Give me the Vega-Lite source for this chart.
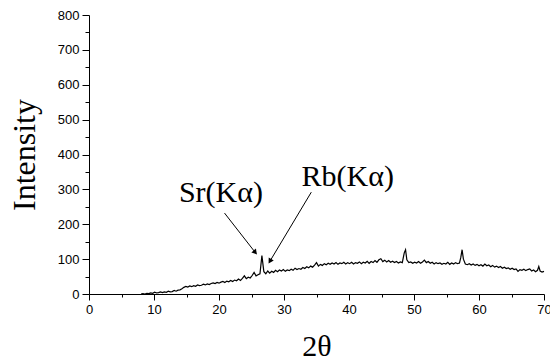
{
  "$schema": "https://vega.github.io/schema/vega-lite/v6.json",
  "width": 455,
  "height": 279,
  "autosize": "none",
  "padding": {"left": 89, "top": 15, "right": 6, "bottom": 69},
  "background": "white",
  "config": {"view": {"stroke": null}, "axis": {"grid": false, "domainColor": "black", "tickColor": "black", "labelColor": "black", "titleColor": "black", "labelFont": "Liberation Sans", "labelFontSize": 13, "labelOverlap": false}},
  "datasets": {
    "spectrum": [
      {"t":8.0,"i":0},{"t":8.3,"i":1},{"t":8.6,"i":0},{"t":8.9,"i":2},{"t":9.2,"i":1},{"t":9.5,"i":3},{"t":9.8,"i":2},
      {"t":10.1,"i":5},{"t":10.4,"i":3},{"t":10.7,"i":4},{"t":11.0,"i":6},{"t":11.3,"i":4},{"t":11.6,"i":6},{"t":11.9,"i":5},
      {"t":12.2,"i":8},{"t":12.5,"i":6},{"t":12.8,"i":7},{"t":13.1,"i":10},{"t":13.4,"i":8},{"t":13.7,"i":11},{"t":14.0,"i":12},
      {"t":14.3,"i":15},{"t":14.6,"i":19},{"t":14.9,"i":22},{"t":15.2,"i":20},{"t":15.5,"i":23},{"t":15.8,"i":21},{"t":16.1,"i":24},
      {"t":16.4,"i":22},{"t":16.7,"i":26},{"t":17.0,"i":24},{"t":17.3,"i":25},{"t":17.6,"i":28},{"t":17.9,"i":26},{"t":18.2,"i":29},
      {"t":18.5,"i":27},{"t":18.8,"i":30},{"t":19.1,"i":32},{"t":19.4,"i":30},{"t":19.7,"i":33},{"t":20.0,"i":31},{"t":20.3,"i":34},
      {"t":20.6,"i":36},{"t":20.9,"i":33},{"t":21.2,"i":37},{"t":21.5,"i":35},{"t":21.8,"i":39},{"t":22.1,"i":36},{"t":22.4,"i":40},
      {"t":22.7,"i":38},{"t":23.0,"i":43},{"t":23.3,"i":39},{"t":23.6,"i":45},{"t":23.9,"i":52},{"t":24.2,"i":44},{"t":24.5,"i":48},
      {"t":24.8,"i":46},{"t":25.1,"i":53},{"t":25.4,"i":62},{"t":25.7,"i":52},{"t":26.0,"i":55},{"t":26.3,"i":58},{"t":26.6,"i":110},
      {"t":26.9,"i":64},{"t":27.2,"i":58},{"t":27.5,"i":66},{"t":27.8,"i":60},{"t":28.1,"i":65},{"t":28.4,"i":62},{"t":28.7,"i":68},
      {"t":29.0,"i":64},{"t":29.3,"i":69},{"t":29.6,"i":66},{"t":29.9,"i":70},{"t":30.2,"i":65},{"t":30.5,"i":69},{"t":30.8,"i":67},
      {"t":31.1,"i":71},{"t":31.4,"i":68},{"t":31.7,"i":74},{"t":32.0,"i":70},{"t":32.3,"i":73},{"t":32.6,"i":71},{"t":32.9,"i":76},
      {"t":33.2,"i":73},{"t":33.5,"i":78},{"t":33.8,"i":75},{"t":34.1,"i":80},{"t":34.4,"i":77},{"t":34.7,"i":83},{"t":35.0,"i":90},
      {"t":35.3,"i":80},{"t":35.6,"i":85},{"t":35.9,"i":82},{"t":36.2,"i":87},{"t":36.5,"i":84},{"t":36.8,"i":88},{"t":37.1,"i":85},
      {"t":37.4,"i":89},{"t":37.7,"i":86},{"t":38.0,"i":90},{"t":38.3,"i":85},{"t":38.6,"i":89},{"t":38.9,"i":87},{"t":39.2,"i":91},
      {"t":39.5,"i":86},{"t":39.8,"i":90},{"t":40.1,"i":87},{"t":40.4,"i":91},{"t":40.7,"i":86},{"t":41.0,"i":90},{"t":41.3,"i":88},
      {"t":41.6,"i":92},{"t":41.9,"i":87},{"t":42.2,"i":91},{"t":42.5,"i":89},{"t":42.8,"i":94},{"t":43.1,"i":88},{"t":43.4,"i":93},
      {"t":43.7,"i":90},{"t":44.0,"i":96},{"t":44.3,"i":91},{"t":44.6,"i":98},{"t":44.9,"i":101},{"t":45.2,"i":93},{"t":45.5,"i":97},
      {"t":45.8,"i":92},{"t":46.1,"i":96},{"t":46.4,"i":91},{"t":46.7,"i":94},{"t":47.0,"i":90},{"t":47.3,"i":93},{"t":47.6,"i":89},
      {"t":47.9,"i":92},{"t":48.2,"i":90},{"t":48.5,"i":118},{"t":48.7,"i":127},{"t":48.9,"i":98},{"t":49.2,"i":90},{"t":49.5,"i":92},
      {"t":49.8,"i":88},{"t":50.1,"i":91},{"t":50.4,"i":89},{"t":50.7,"i":93},{"t":51.0,"i":88},{"t":51.3,"i":92},{"t":51.6,"i":97},
      {"t":51.9,"i":90},{"t":52.2,"i":93},{"t":52.5,"i":88},{"t":52.8,"i":91},{"t":53.1,"i":86},{"t":53.4,"i":90},{"t":53.7,"i":87},
      {"t":54.0,"i":89},{"t":54.3,"i":85},{"t":54.6,"i":88},{"t":54.9,"i":86},{"t":55.2,"i":91},{"t":55.5,"i":85},{"t":55.8,"i":89},
      {"t":56.1,"i":86},{"t":56.4,"i":90},{"t":56.7,"i":87},{"t":57.0,"i":89},{"t":57.2,"i":105},{"t":57.4,"i":127},{"t":57.6,"i":100},
      {"t":57.9,"i":86},{"t":58.2,"i":84},{"t":58.5,"i":87},{"t":58.8,"i":83},{"t":59.1,"i":86},{"t":59.4,"i":82},{"t":59.7,"i":85},
      {"t":60.0,"i":81},{"t":60.3,"i":84},{"t":60.6,"i":80},{"t":60.9,"i":86},{"t":61.2,"i":81},{"t":61.5,"i":83},{"t":61.8,"i":78},
      {"t":62.1,"i":82},{"t":62.4,"i":77},{"t":62.7,"i":80},{"t":63.0,"i":76},{"t":63.3,"i":79},{"t":63.6,"i":74},{"t":63.9,"i":77},
      {"t":64.2,"i":73},{"t":64.5,"i":75},{"t":64.8,"i":71},{"t":65.1,"i":74},{"t":65.4,"i":70},{"t":65.7,"i":72},{"t":66.0,"i":65},
      {"t":66.3,"i":70},{"t":66.6,"i":68},{"t":66.9,"i":71},{"t":67.2,"i":67},{"t":67.5,"i":70},{"t":67.8,"i":72},{"t":68.1,"i":66},
      {"t":68.4,"i":69},{"t":68.7,"i":64},{"t":69.0,"i":68},{"t":69.2,"i":79},{"t":69.4,"i":66},{"t":69.7,"i":63},{"t":70.0,"i":65}
    ],
    "labels": [
      {"label":"Sr(Kα)","t":20.3,"i":289,"t2":20.85,"i2":232,"tipT":25.5,"tipI":121},
      {"label":"Rb(Kα)","t":39.8,"i":335,"t2":34.2,"i2":292,"tipT":27.9,"tipI":96}
    ]
  },
  "resolve": {"axis": {"x": "independent", "y": "independent"}},
  "layer": [
    {
      "data": {"name": "spectrum"},
      "mark": {"type": "line", "color": "black", "strokeWidth": 1.2, "interpolate": "linear"},
      "encoding": {
        "x": {"field": "t", "type": "quantitative",
          "scale": {"domain": [0, 70], "nice": false, "zero": false},
          "axis": {"orient": "bottom", "values": [0,10,20,30,40,50,60,70],
            "tickSize": 6, "labelPadding": 3, "labelFlush": false, "labelOverlap": false,
            "title": "2θ", "titleFont": "Liberation Serif", "titleFontSize": 30, "titleFontWeight": "normal", "titlePadding": 15}},
        "y": {"field": "i", "type": "quantitative",
          "scale": {"domain": [0, 800], "nice": false},
          "axis": {"orient": "left", "values": [0,100,200,300,400,500,600,700,800],
            "tickSize": 7, "labelPadding": 3, "labelFlush": false, "labelOverlap": false,
            "title": "Intensity", "titleFont": "Liberation Serif", "titleFontSize": 32, "titleFontWeight": "normal", "titlePadding": 16}}
      }
    },
    {
      "data": {"name": "spectrum"},
      "mark": {"type": "line", "strokeOpacity": 0},
      "encoding": {
        "x": {"field": "t", "type": "quantitative",
          "axis": {"orient": "bottom", "values": [5,15,25,35,45,55,65], "tickSize": 3, "labels": false, "domain": false, "title": null}},
        "y": {"field": "i", "type": "quantitative",
          "axis": {"orient": "left", "values": [50,150,250,350,450,550,650,750], "tickSize": 4, "labels": false, "domain": false, "title": null}}
      }
    },
    {
      "data": {"name": "labels"},
      "mark": {"type": "rule", "color": "black", "strokeWidth": 1},
      "encoding": {
        "x": {"field": "t2", "type": "quantitative", "axis": null},
        "y": {"field": "i2", "type": "quantitative", "axis": null},
        "x2": {"field": "tipT"},
        "y2": {"field": "tipI"}
      }
    },
    {
      "data": {"name": "labels"},
      "transform": [{"filter": "datum.label === 'Sr(Kα)'"}],
      "mark": {"type": "point", "shape": "triangle", "filled": true, "color": "black", "size": 35, "angle": 140, "opacity": 1},
      "encoding": {
        "x": {"field": "tipT", "type": "quantitative", "axis": null},
        "y": {"field": "tipI", "type": "quantitative", "axis": null}
      }
    },
    {
      "data": {"name": "labels"},
      "transform": [{"filter": "datum.label === 'Rb(Kα)'"}],
      "mark": {"type": "point", "shape": "triangle", "filled": true, "color": "black", "size": 35, "angle": 211, "opacity": 1},
      "encoding": {
        "x": {"field": "tipT", "type": "quantitative", "axis": null},
        "y": {"field": "tipI", "type": "quantitative", "axis": null}
      }
    },
    {
      "data": {"name": "labels"},
      "mark": {"type": "text", "font": "Liberation Serif", "fontSize": 30, "color": "black", "align": "center", "baseline": "middle"},
      "encoding": {
        "x": {"field": "t", "type": "quantitative", "axis": null},
        "y": {"field": "i", "type": "quantitative", "axis": null},
        "text": {"field": "label"}
      }
    }
  ]
}
